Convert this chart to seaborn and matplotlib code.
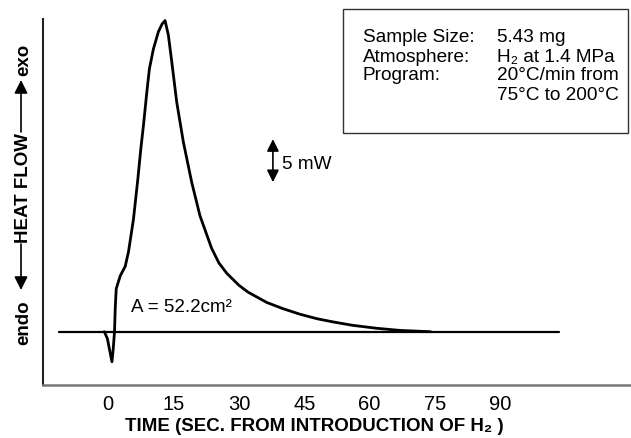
import matplotlib
matplotlib.use("Agg")
import matplotlib.pyplot as plt
import matplotlib.patches as mpatches
import pandas as pd
import seaborn as sns

# DSC trace (time in s, heat flow in mW, baseline = 0)
time_s = [-0.9, -0.2, 0.34, 0.85, 1.14, 1.44, 1.60, 1.83, 2.75, 3.89, 4.65,
          5.79, 6.80, 7.48, 8.08, 8.86, 9.45, 10.37, 11.51, 12.36, 13.04,
          13.80, 14.58, 15.72, 17.23, 19.15, 21.05, 23.73, 25.4, 27.2, 30.0,
          32.1, 36.4, 40.0, 43.9, 48.0, 51.5, 56.0, 61.6, 67.0, 74.0]
heat_flow = [0.0, -0.8, -2.2, -3.5, -2.0, 0.0, 2.7, 5.0, 6.5, 7.6, 9.3,
             13.1, 17.8, 21.3, 24.0, 27.9, 30.6, 32.9, 34.9, 35.8, 36.2,
             34.5, 31.4, 26.7, 22.1, 17.4, 13.5, 9.7, 8.0, 6.8, 5.4,
             4.6, 3.4, 2.7, 2.05, 1.5, 1.15, 0.75, 0.4, 0.15, 0.0]
baseline_t = [-11.4, 103.4]
baseline_y = [0.0, 0.0]
xticks = [0, 15, 30, 45, 60, 75, 90]

box_labels = ["Sample Size:", "Atmosphere:", "Program:", ""]
box_values = ["5.43 mg", "H\u2082 at 1.4 MPa", "20\u00b0C/min from", "75\u00b0C to 200\u00b0C"]

sns.set_theme(style="white", rc={"text.color": "black", "axes.labelcolor": "black",
                                 "xtick.color": "black"})
plt.rcParams["font.family"] = ["Liberation Sans", "DejaVu Sans"]

fig = plt.figure(figsize=(6.31, 4.38), dpi=100)
ax = fig.add_axes([0.068, 0.121, 0.932, 0.836])

trace = pd.DataFrame({"t": time_s, "q": heat_flow})
base = pd.DataFrame({"t": baseline_t, "q": baseline_y})
sns.lineplot(data=base, x="t", y="q", ax=ax, color="black", lw=1.6,
             sort=False, estimator=None)
sns.lineplot(data=trace, x="t", y="q", ax=ax, color="black", lw=2.0,
             sort=False, estimator=None)

ax.set_xlim(-15, 120)
ax.set_ylim(-6.2, 36.4)
ax.set_xticks(xticks)
ax.set_yticks([])
ax.tick_params(axis="x", direction="in", length=6, width=1, color="#333333",
               pad=7, labelsize=14.5, labelcolor="black")
sns.despine(ax=ax)
ax.spines["left"].set_color("#222222")
ax.spines["left"].set_linewidth(1.5)
ax.spines["bottom"].set_color("#777777")
ax.spines["bottom"].set_linewidth(1.8)

ax.set_xlabel("TIME (SEC. FROM INTRODUCTION OF H\u2082 )", fontsize=13.5,
              fontweight="bold", va="center")
ax.xaxis.set_label_coords(0.461, -0.113)
ax.set_ylabel("")

# annotations on the data
ax.text(5.3, 2.8, "A = 52.2cm\u00b2", fontsize=13.5, va="center", ha="left")
ax.annotate("", xy=(37.8, 22.4), xytext=(37.8, 17.4),
            arrowprops=dict(arrowstyle="<|-|>", lw=1.2, color="black",
                            mutation_scale=18, shrinkA=0, shrinkB=0))
ax.text(39.8, 19.5, "5 mW", fontsize=13.7, va="center", ha="left")

# y label made of pieces with arrows
W, H = 631.0, 438.0
for label, ypix in [("exo", 60), ("HEAT FLOW", 188), ("endo", 323)]:
    fig.text(24 / W, 1 - ypix / H, label, rotation=90, ha="center",
             va="center", fontsize=13.5, fontweight="bold")
for y0, y1 in [(132, 80), (244, 290)]:
    ax.annotate("", xy=(21 / W, 1 - y1 / H), xytext=(21 / W, 1 - y0 / H),
                xycoords="figure fraction", textcoords="figure fraction",
                arrowprops=dict(arrowstyle="-|>", lw=1.2, color="black",
                                mutation_scale=20, shrinkA=0, shrinkB=0),
                annotation_clip=False)

# info box
fig.patches.append(mpatches.Rectangle((343 / W, 1 - 133 / H), 285 / W, 124 / H,
                                      transform=fig.transFigure, fill=False,
                                      edgecolor="#333333", lw=1.0))
for i, (lab, val) in enumerate(zip(box_labels, box_values)):
    ypix = 38 + 19 * i
    fig.text(363 / W, 1 - ypix / H, lab, fontsize=13.7, va="center", ha="left")
    fig.text(497 / W, 1 - ypix / H, val, fontsize=13.7, va="center", ha="left")

fig.savefig("out.png", dpi=100)
